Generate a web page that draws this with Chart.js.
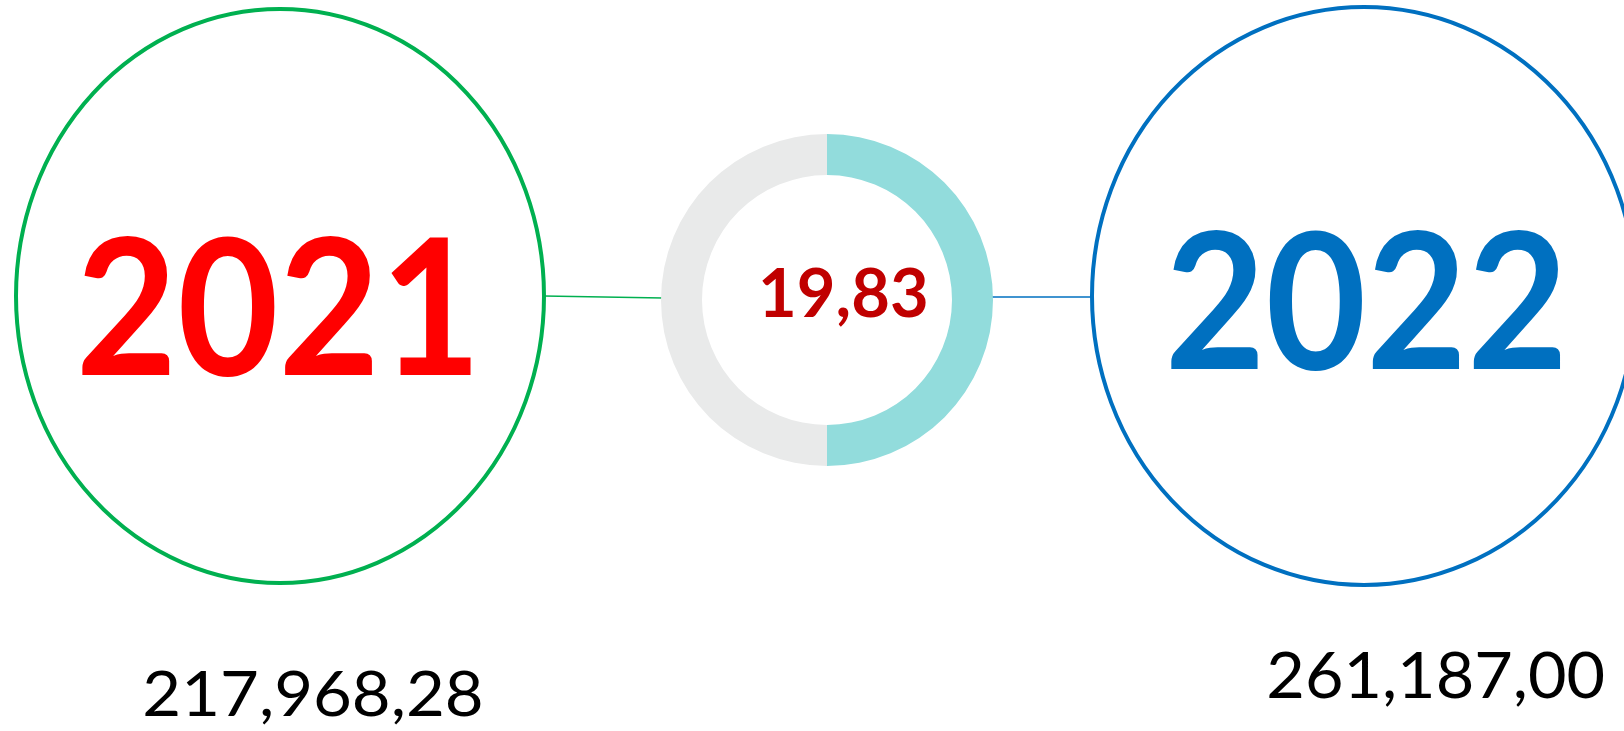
<!DOCTYPE html>
<html>
<head>
<meta charset="utf-8">
<title>2021 - 2022</title>
<script src="https://cdn.jsdelivr.net/npm/chart.js@4"></script>
<style>
  html, body { margin: 0; padding: 0; background: #ffffff; }
  canvas { display: block; }
</style>
</head>
<body>
<canvas id="chart" width="1624" height="731"></canvas>
<script>
// data
const years = ['2021', '2022'];
const totals = [217968.28, 261187.00];
const changeValue = 19.83;
const ringLabels = ['change', 'rest'];
const ringValues = [50, 50];

// styles
const yearColors = ['#FF0000', '#0070C0'];
const ringColors = ['#92DCDC', '#E9EAEA'];
const circleColors = ['#00B050', '#0070C0'];
const changeColor = '#C00000';

// decoration layout (circles and text boxes)
const circles = [
    { cx: 280, cy: 296, rx: 264, ry: 287 },
    { cx: 1364, cy: 296, rx: 272, ry: 289 }
];
const yearBoxes = [
    { left: 81, right: 471, top: 236, baseline: 375 },
    { left: 1170, right: 1561, top: 230, baseline: 369 }
];
const totalBoxes = [
    { left: 145, right: 481, top: 670, baseline: 716 },
    { left: 1269, right: 1603, top: 650, baseline: 698 }
];
const changeBox = { left: 762, right: 926, top: 268, baseline: 317 };

function formatNumber(v)
{
    const parts = v.toFixed(2).split('.');
    const intPart = parts[0].replace(/\B(?=(\d{3})+(?!\d))/g, ',');
    return intPart + ',' + parts[1];
}

// draw text so that it fills the given box (cap height and width)
function fitText(c, text, weight, box, color)
{
    c.save();
    c.font = weight + ' 100px Lato, "Open Sans", sans-serif';
    c.textAlign = 'left';
    c.textBaseline = 'alphabetic';
    const m = c.measureText(text);
    const w = m.actualBoundingBoxLeft + m.actualBoundingBoxRight;
    const h = m.actualBoundingBoxAscent;
    c.translate(box.left, box.baseline);
    c.scale((box.right - box.left) / w, (box.baseline - box.top) / h);
    c.fillStyle = color;
    c.fillText(text, m.actualBoundingBoxLeft, 0);
    c.restore();
}

const decorations = {
    id: 'decorations',
    beforeDatasetsDraw(chart) {
        const c = chart.ctx;
        const arc = chart.getDatasetMeta(0).data[0];
        const ringX = arc.x;
        const ringY = arc.y;
        const ringR = arc.outerRadius;

        c.save();
        // connector lines
        c.lineWidth = 1.5;
        c.strokeStyle = circleColors[0];
        c.beginPath();
        c.moveTo(circles[0].cx + circles[0].rx, circles[0].cy);
        c.lineTo(ringX - ringR + 2, ringY - 2);
        c.stroke();
        c.strokeStyle = circleColors[1];
        c.beginPath();
        c.moveTo(ringX + ringR - 2, circles[1].cy + 1);
        c.lineTo(circles[1].cx - circles[1].rx, circles[1].cy + 1);
        c.stroke();

        // year circles
        c.lineWidth = 4;
        circles.forEach(function (e, i) {
            c.strokeStyle = circleColors[i];
            c.beginPath();
            c.ellipse(e.cx, e.cy, e.rx, e.ry, 0, 0, Math.PI * 2);
            c.stroke();
        });
        c.restore();
    },
    afterDraw(chart) {
        const c = chart.ctx;
        years.forEach(function (y, i) {
            fitText(c, y, 'bold', yearBoxes[i], yearColors[i]);
            fitText(c, formatNumber(totals[i]), 'normal', totalBoxes[i], '#000000');
        });
        fitText(c, formatNumber(changeValue), 'bold', changeBox, changeColor);
    }
};

const ctx = document.getElementById('chart').getContext('2d');
const ringChart = new Chart(ctx, {
    type: 'doughnut',
    data: {
        labels: ringLabels,
        datasets: [{
            data: ringValues,
            backgroundColor: ringColors,
            borderWidth: 0,
            hoverOffset: 0
        }]
    },
    options: {
        responsive: false,
        devicePixelRatio: 1,
        animation: false,
        cutout: '75.3%',
        layout: {
            padding: { left: 661, right: 631, top: 134, bottom: 265 }
        },
        plugins: {
            legend: { display: false },
            tooltip: { enabled: false }
        }
    },
    plugins: [decorations]
});
</script>
</body>
</html>
